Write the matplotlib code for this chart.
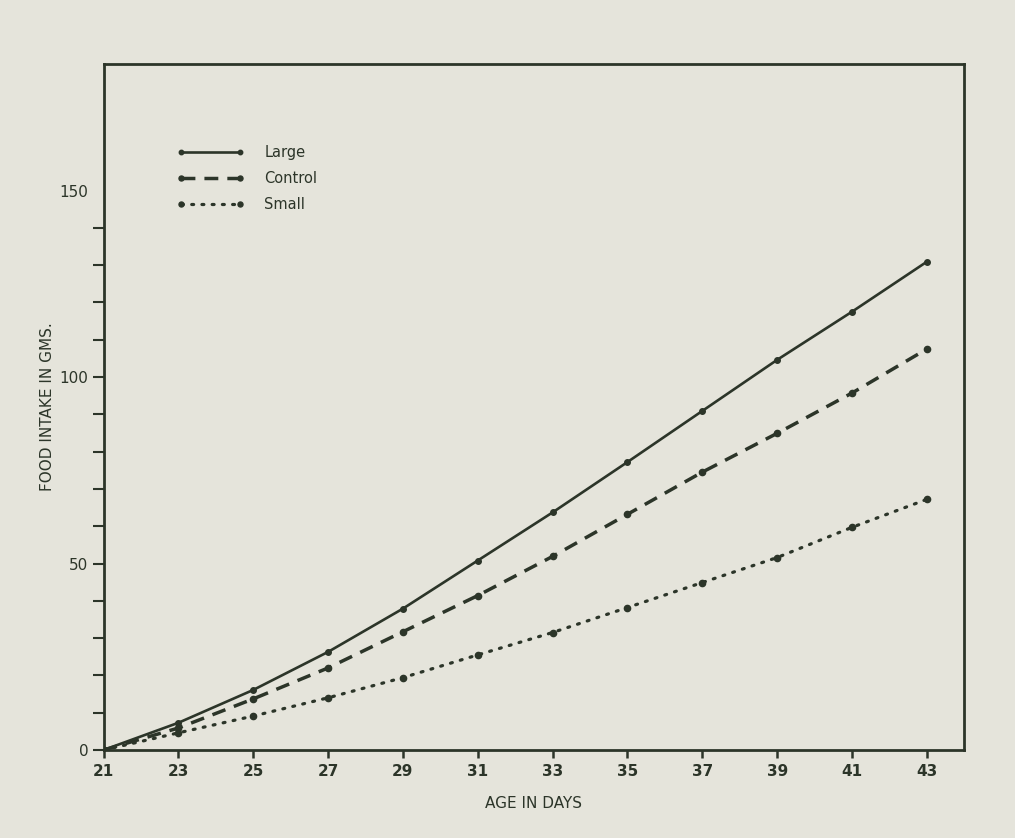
import matplotlib
matplotlib.use("Agg")
import matplotlib.pyplot as plt
from matplotlib.ticker import FixedLocator

days = [21, 23, 25, 27, 29, 31, 33, 35, 37, 39, 41, 43]
large = [0, 7.3, 16.1, 26.3, 37.9, 50.8, 63.7, 77.2, 90.9, 104.6, 117.5, 130.9]
control = [0, 5.9, 13.7, 22.0, 31.7, 41.4, 51.9, 63.2, 74.5, 84.9, 95.7, 107.5]
small = [0, 4.6, 9.1, 14.0, 19.4, 25.5, 31.5, 38.2, 44.9, 51.6, 59.7, 67.2]
series_names = ["Large", "Control", "Small"]
x_ticks = list(range(21, 44, 2))
y_labels = [0, 50, 100, 150]
y_minor = [10, 20, 30, 40, 60, 70, 80, 90, 110, 120, 130, 140]

paper = "#e5e4db"
ink = "#2c3529"

fig = plt.figure(figsize=(10.15, 8.38), dpi=100, facecolor=paper)
ax = fig.add_axes([0.102, 0.105, 0.848, 0.819])
ax.set_facecolor(paper)

ax.plot(days, large, color=ink, lw=1.9, ls="-", marker="o", ms=4,
        label=series_names[0])
ax.plot(days, control, color=ink, lw=2.5, ls=(0, (4, 2.6)), marker="o", ms=4.5,
        label=series_names[1])
ax.plot(days, small, color=ink, lw=2.3, ls=(0, (0.6, 2.6)), marker="o", ms=4.5,
        dash_capstyle="round", label=series_names[2])

ax.set_xlim(21, 44)
ax.set_ylim(0, 184)
ax.xaxis.set_major_locator(FixedLocator(x_ticks))
ax.yaxis.set_major_locator(FixedLocator(y_labels))
ax.yaxis.set_minor_locator(FixedLocator(y_minor))

for s in ax.spines.values():
    s.set_color(ink)
    s.set_linewidth(2.0)

ax.tick_params(axis="x", direction="out", length=6, width=1.8, color=ink,
               labelsize=11, labelcolor=ink, pad=4)
ax.tick_params(axis="y", which="both", direction="out", length=8, width=1.5,
               color=ink, labelsize=11, labelcolor=ink, pad=3)
ax.set_yticklabels([str(v) for v in y_labels])
ax.set_xticklabels([str(v) for v in x_ticks], fontweight="bold")
# the 150 label has no tick mark in the original
ax.yaxis.get_major_ticks()[-1].tick1line.set_visible(False)

ax.set_xlabel("AGE IN DAYS", fontsize=11, color=ink, labelpad=12)
ax.set_ylabel("FOOD INTAKE IN GMS.", fontsize=11, color=ink, labelpad=3)

leg = ax.legend(loc="upper left", bbox_to_anchor=(0.07, 0.9), frameon=False,
                numpoints=2, handlelength=4.6, fontsize=10.5, labelspacing=0.75,
                handletextpad=1.4, markerscale=0.8)
for t in leg.get_texts():
    t.set_color(ink)

fig.savefig("out.png", dpi=100, facecolor=paper)
